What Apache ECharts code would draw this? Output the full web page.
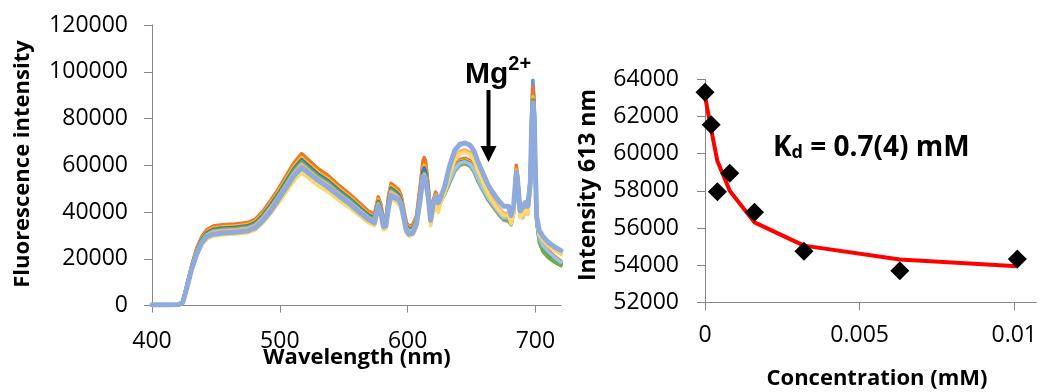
<!DOCTYPE html>
<html><head><meta charset="utf-8">
<script src="https://cdn.jsdelivr.net/npm/echarts@6/dist/echarts.min.js"></script>
<style>html,body{margin:0;padding:0;background:#fff}#c{width:1040px;height:392px}</style>
</head><body><div id="c"></div>
<script>
// ---------- Left panel: emission spectra ----------
const wavelength = [400,415,421,424,427,431,435,439,443,448,455,465,475,481,487,493,499,505,511,517,523,530,538,546,554,562,569,574,577,579,581,583,585,587,590,593,595,597,599,601,604,607,610,612,613,614,616,618,620,622,624,
  626,629,633,637,641,645,649,652,655,659,663,667,671,675,679,681,683,685,686,688,690,692,694,696,697,698,699,700,701,703,706,710,715,720];

const specBlue = [300,300,400,1480,7900,16750,24130,29060,32010,33490,33980,34380,34970,36450,39890,44330,49250,54670,60090,64030,61070,57620,54670,50730,47280,43340,39890,38420,45800,42850,36450,36940,45800,51520,50240,48760,46300,40390,34970,33490,33980,37920,50540,60260,61500,60260,51220,38420,44330,47770,44820,
  46000,49500,54500,59500,62000,62500,61500,59000,55000,51000,47000,44000,41000,38500,38000,36500,41500,58500,55000,40500,40000,42500,41500,56000,82000,96400,88000,60000,37000,29000,25000,22500,20000,18500];
const specOrange = [300,300,400,1500,8000,17000,24500,29500,32500,34000,34500,34900,35500,37000,40500,45000,50000,55500,61000,65000,62000,58500,55500,51500,48000,44000,40500,39000,46500,43500,37000,37500,46500,52300,51000,49500,47000,41000,35500,34000,34500,38500,52000,62000,63300,62000,52000,39000,45000,48500,45500,
  46500,50000,55000,60000,62500,63000,62000,59500,55500,51500,47500,44500,41500,39000,38500,37000,42000,60000,56000,41000,40500,43000,42000,55000,80000,93600,86000,60000,38000,30000,26000,23500,21000,19000];
const specGray = [300,300,400,1430,7600,16150,23280,28030,30880,32300,32780,33160,33730,35150,38480,42750,47500,52730,57950,61750,58900,55580,52730,48930,45600,41800,38480,37050,44180,41330,35150,35630,44180,49690,48450,47030,44650,38950,33730,32300,32780,36580,47580,56730,57950,56730,49400,37050,42750,46080,43230,
  44500,47500,52500,57500,60000,60500,59500,57000,53000,49000,45000,42000,39000,36500,36000,34500,39500,56000,52500,38500,38000,40500,39500,52000,76000,87500,81000,56500,36000,28000,24000,21500,19000,17500];
const specYellow = [300,300,400,1460,7800,16580,23890,28760,31690,33150,33640,34030,34610,36080,39490,43880,48750,54110,59480,63380,60450,57040,54110,50210,46800,42900,39490,38030,45340,42410,36080,36560,45340,50990,49730,48260,45830,39980,34610,33150,33640,37540,49300,58780,60000,58780,50700,38030,43880,47290,44360,
  45700,49200,54200,59200,61700,62200,61200,58700,54700,50700,46700,43700,40700,38200,37700,36200,41200,58000,54500,40200,39700,42200,41200,54000,78000,89300,84000,58500,37000,29000,25000,22500,20000,18000];
const specDarkBlue = [300,300,400,1440,7680,16320,23520,28320,31200,32640,33120,33500,34080,35520,38880,43200,48000,53280,58560,62400,59520,56160,53280,49440,46080,42240,38880,37440,44640,41760,35520,36000,44640,50210,48960,47520,45120,39360,34080,32640,33120,36960,48360,57660,58900,57660,49920,37440,43200,46560,43680,
  45300,48800,53800,58800,61300,61800,60800,58300,54300,50300,46300,43300,40300,37800,37300,35800,40800,57000,53500,39800,39300,41800,40800,53000,77000,88000,82000,57500,36500,28500,24500,22000,19500,17800];
const specGreen = [300,300,400,1420,7560,16070,23150,27880,30710,32130,32600,32980,33550,34970,38270,42530,47250,52450,57650,61430,58590,55280,52450,48670,45360,41580,38270,36860,43940,41110,34970,35440,43940,49420,48200,46780,44420,38750,33550,32130,32600,36380,46640,55610,56800,55610,49140,36860,42530,45830,43000,
  44500,48000,53000,58000,60500,61000,60000,57500,53500,49500,45500,42500,39500,37000,36500,35000,40000,56500,53000,39000,38500,41000,40000,52500,76500,88000,81500,56000,35500,27000,23000,20500,18500,17000];
const specLightBlue = [300,300,400,1400,7440,15810,22790,27440,30230,31620,32090,32460,33020,34410,37670,41850,46500,51620,56730,60450,57660,54410,51620,47900,44640,40920,37670,36270,43250,40460,34410,34880,43250,48640,47430,46040,43710,38130,33020,31620,32090,35810,46020,54870,56000,54870,48360,36270,41850,45110,42320,
  45000,48500,53500,58500,61000,61500,60500,58000,54000,50000,46000,43000,40000,37500,37500,35500,40000,55500,52000,38000,37500,40000,39000,51500,75500,87000,81000,56500,36500,29000,25500,23000,20500,18500];
const specLightOrange = [300,300,400,1390,7400,15730,22660,27290,30060,31450,31910,32280,32840,34230,37460,41630,46250,51340,56430,60130,57350,54110,51340,47640,44400,40700,37460,36080,43010,40240,34230,34690,43010,48380,47180,45790,43480,37930,32840,31450,31910,35610,44930,53570,54700,53570,48100,36080,41630,44860,42090,
  45500,49000,57000,63500,66000,66500,65500,63000,58500,53500,48500,45000,42000,39500,39500,36000,40500,56000,52500,38500,39500,41500,40000,51000,75000,86000,80000,56000,37000,30500,28000,25500,23500,22000];
const specLightYellow = [300,300,400,1310,7000,14880,21440,25810,28440,29750,30190,30540,31060,32380,35440,39380,43750,48560,53380,56880,54250,51190,48560,45060,42000,38500,35440,34130,40690,38060,32380,32810,40690,45760,44630,43310,41130,35880,31060,29750,30190,33690,44100,52580,53700,52580,45500,34130,39380,42440,39810,
  44000,48000,56000,62500,65000,65500,64500,62000,57500,52500,47500,44000,41000,38500,38500,35000,39500,54000,51000,37500,38500,40500,39000,50000,74000,85500,79500,55500,36500,30500,28000,25500,23500,22000];
const specLavender = [300,300,400,1300,7000,15500,22000,27000,29500,30500,31000,31300,32000,33300,36500,40500,45500,50500,55500,59000,56500,53500,50500,47000,43800,40000,37000,35300,42500,40000,33800,34000,42000,47000,46000,45300,43000,37500,32000,30500,31000,35000,46500,55000,55500,54500,46500,36500,43500,46500,44000,
  46500,51000,60000,66500,69000,69500,68500,66000,61500,56500,51500,48000,45000,42500,42500,38500,43000,57000,53500,40500,42000,44000,42500,52000,76000,86400,81000,57000,38000,32000,29500,27000,25000,23500];

const spectraColors = ['#5B9BD5','#E8782E','#A5A5A5','#FFC000','#4472C4','#70AD47','#9DC3E6','#F4B183','#FFD966','#8FAADC'];
const spectra = [specBlue, specOrange, specGray, specYellow, specDarkBlue, specGreen, specLightBlue, specLightOrange, specLightYellow, specLavender];

const leftXTicks = [400, 500, 600, 700];

// ---------- Right panel: titration at 613 nm ----------
const concentration = [0, 0.0002, 0.0004, 0.0008, 0.0016, 0.0032, 0.0063, 0.0101];
const intensity613 = [63300, 61550, 57950, 58950, 56850, 54750, 53700, 54330];
const fit613 = [63100, 61300, 59600, 58000, 56300, 55050, 54300, 53940];
const rightXTicks = [0, 0.005, 0.01];

spectra.forEach((s, i) => { if (s.length !== wavelength.length) throw new Error('series ' + i + ' length ' + s.length); });

const FONT = '"Open Sans", "Liberation Sans", sans-serif';
const axisGray = '#868686';

const chart = echarts.init(document.getElementById('c'), null, {renderer: 'canvas'});

const lineSeries = spectra.map((s, i) => ({
  type: 'line', xAxisIndex: 0, yAxisIndex: 0,
  data: s.map((v, k) => [wavelength[k], v]),
  showSymbol: false, symbol: 'none',
  lineStyle: {color: spectraColors[i], width: i === spectra.length - 1 ? 5 : 3.5, join: 'round', cap: 'round'},
  itemStyle: {color: spectraColors[i]},
  z: 2 + i, silent: true
}));

const option = {
  animation: false,
  backgroundColor: '#fff',
  grid: [
    {left: 152, top: 25, width: 409, height: 280.5},
    {left: 705, top: 79.3, width: 335, height: 223}
  ],
  xAxis: [
    {type: 'value', gridIndex: 0, min: 400, max: 720, interval: 100,
     axisLine: {lineStyle: {color: axisGray, width: 1}},
     axisTick: {length: 7, lineStyle: {color: axisGray}, customValues: leftXTicks},
     axisLabel: {customValues: leftXTicks, margin: 24, fontSize: 23, fontFamily: FONT, color: '#000'},
     splitLine: {show: false}},
    {type: 'value', gridIndex: 1, min: 0, max: 0.010713, interval: 0.005,
     axisLine: {lineStyle: {color: axisGray, width: 1}},
     axisTick: {length: 8, lineStyle: {color: axisGray}, customValues: rightXTicks},
     axisLabel: {customValues: rightXTicks, margin: 22, fontSize: 23, fontFamily: FONT, color: '#000',
       formatter: v => String(v)},
     splitLine: {show: false}}
  ],
  yAxis: [
    {type: 'value', gridIndex: 0, min: 0, max: 120000, interval: 20000,
     axisLine: {show: true, lineStyle: {color: axisGray, width: 1}},
     axisTick: {show: true, length: 8, lineStyle: {color: axisGray}},
     axisLabel: {margin: 24, fontSize: 23, fontFamily: FONT, color: '#000', formatter: v => String(v)},
     splitLine: {show: false}},
    {type: 'value', gridIndex: 1, min: 52000, max: 64000, interval: 2000,
     axisLine: {show: true, lineStyle: {color: axisGray, width: 1}},
     axisTick: {show: true, length: 8, lineStyle: {color: axisGray}},
     axisLabel: {margin: 26, fontSize: 23, fontFamily: FONT, color: '#000', formatter: v => String(v)},
     splitLine: {show: false}}
  ],
  series: lineSeries.concat([
    {type: 'line', xAxisIndex: 1, yAxisIndex: 1,
     data: concentration.map((c, k) => [c, fit613[k]]),
     showSymbol: false, symbol: 'none',
     lineStyle: {color: '#FF0000', width: 4, join: 'round'}, z: 20},
    {type: 'scatter', xAxisIndex: 1, yAxisIndex: 1,
     data: concentration.map((c, k) => [c, intensity613[k]]),
     symbol: 'diamond', symbolSize: [19, 19],
     itemStyle: {color: '#000', opacity: 1}, z: 21}
  ]),
  graphic: [
    {type: 'text', x: 23, y: 164, rotation: Math.PI / 2,
     style: {text: 'Fluorescence intensity', font: 'bold 22px ' + FONT, fill: '#000', textAlign: 'center', textVerticalAlign: 'middle'}},
    {type: 'text', x: 357, y: 358,
     style: {text: 'Wavelength (nm)', font: 'bold 22px ' + FONT, fill: '#000', textAlign: 'center', textVerticalAlign: 'middle'}},
    {type: 'text', x: 588, y: 185, rotation: Math.PI / 2,
     style: {text: 'Intensity 613 nm', font: 'bold 23px ' + FONT, fill: '#000', textAlign: 'center', textVerticalAlign: 'middle'}},
    {type: 'text', x: 877, y: 379,
     style: {text: 'Concentration (mM)', font: 'bold 22px ' + FONT, fill: '#000', textAlign: 'center', textVerticalAlign: 'middle'}},
    {type: 'text', x: 773, y: 145,
     style: {text: '{k|K}{d|d}{k| = 0.7(4) mM}', fill: '#000', textAlign: 'left', textVerticalAlign: 'middle',
       rich: {
         k: {fontSize: 28, fontWeight: 'bold', fontFamily: FONT, fill: '#000', lineHeight: 34, verticalAlign: 'bottom'},
         d: {fontSize: 18, fontWeight: 'bold', fontFamily: FONT, fill: '#000', lineHeight: 20, verticalAlign: 'bottom'}
       }}},
    {type: 'text', x: 465, y: 72,
     style: {text: '{m|Mg}{s|2+}', fill: '#000', textAlign: 'left', textVerticalAlign: 'middle',
       rich: {
         m: {fontSize: 30, fontWeight: 'bold', fontFamily: '"Liberation Sans", Arial, sans-serif', fill: '#000', lineHeight: 36, verticalAlign: 'bottom'},
         s: {fontSize: 20, fontWeight: 'bold', fontFamily: '"Liberation Sans", Arial, sans-serif', fill: '#000', lineHeight: 22, verticalAlign: 'top'}
       }}},
    {type: 'line', shape: {x1: 488.5, y1: 90, x2: 488.5, y2: 148}, style: {stroke: '#000', lineWidth: 4}, z: 30},
    {type: 'polygon', shape: {points: [[480.5, 146], [496.5, 146], [488.5, 162]]}, style: {fill: '#000'}, z: 30}
  ]
};
chart.setOption(option);
</script>
</body></html>
